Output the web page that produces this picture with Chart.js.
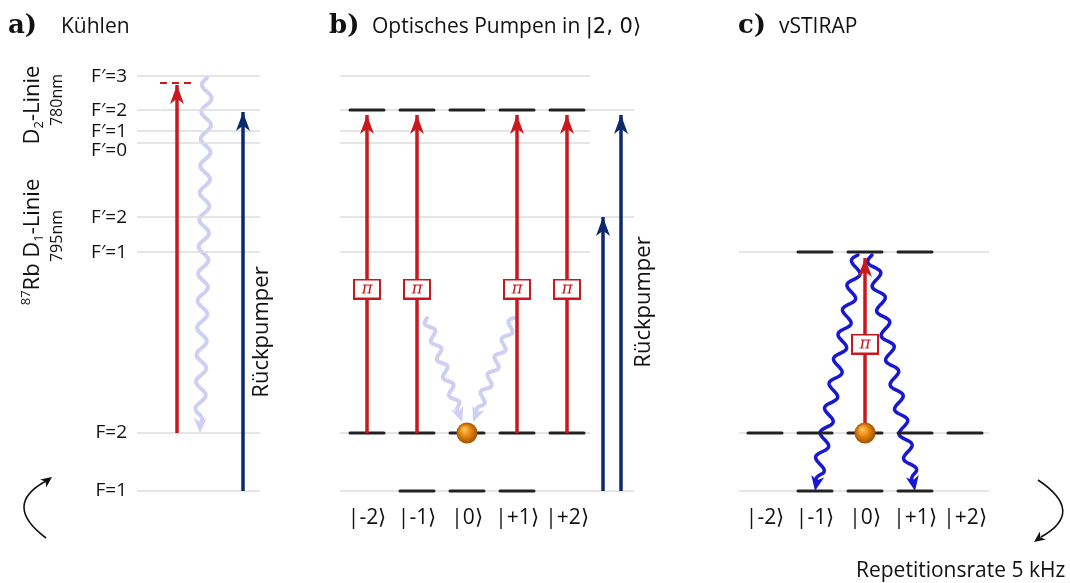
<!DOCTYPE html>
<html>
<head>
<meta charset="utf-8">
<script src="https://cdn.jsdelivr.net/npm/chart.js@4.4.1/dist/chart.umd.min.js"></script>
<style>
  html, body { margin: 0; padding: 0; background: #fff; }
  #wrap { width: 1070px; height: 583px; }
</style>
</head>
<body>
<div id="wrap"><canvas id="scheme"></canvas></div>
<script>
// 87Rb hyperfine levels (vertical diagram position, top = 0)
const levelLabels = ['F′=3', 'F′=2', 'F′=1', 'F′=0', 'F′=2', 'F′=1', 'F=2', 'F=1'];
const levelHeights = [76, 110, 131, 143, 217, 252, 433, 491];

// Zeeman sublevels and their kets
const mStates = [-2, -1, 0, 1, 2];
const ketLabels = ['|-2⟩', '|-1⟩', '|0⟩', '|+1⟩', '|+2⟩'];

// occupied sublevels per level index in panels b and c
const pumpSublevels = { 1: [-2, -1, 0, 1, 2], 6: [-2, -1, 0, 1, 2], 7: [-1, 0, 1] };
const stirapSublevels = { 5: [-1, 0, 1], 6: [-2, -1, 0, 1, 2], 7: [-1, 0, 1] };
const pumpPiStates = [-2, -1, 1, 2];
const stirapDecayStates = [-1, 1];

// cooling laser red-detuned below F'=3
const coolingDetuning = 7;

const C = {
  grey: '#dcdcdc', dash: '#222', red: '#c8191f', navy: '#0b2a6e',
  lilac: '#cfcff3', blue: '#1717d4', text: '#111'
};

const L = {
  aFrom: 137, aTo: 260, aLabel: 127, aCool: 177, aFluo: 206, aRepump: 243,
  bFrom: 340, bTo: 590, bLong: 634, bCenter: 467, bRep1: 603, bRep2: 621,
  cFrom: 739, cTo: 989, cCenter: 865, step: 50, half: 17
};
// F'=0 label sits a bit lower so it does not collide with F'=1
const labelNudge = [1, 1, 1, 8, 1, 1, 0, 0];

const datasets = [];
function seg(x0, y0, x1, y1, color, width, extra) {
  datasets.push(Object.assign({
    data: [{ x: x0, y: y0 }, { x: x1, y: y1 }],
    showLine: true, borderColor: color, borderWidth: width,
    pointRadius: 0, borderCapStyle: 'butt'
  }, extra || {}));
}

// grey level lines
levelHeights.forEach((h, i) => {
  seg(L.aFrom, h, L.aTo, h, C.grey, 1.5, { order: 9 });
  const longB = (i === 1 || i === 4 || i === 7);
  seg(L.bFrom, h, longB ? L.bLong : L.bTo, h, C.grey, 1.5, { order: 9 });
});
Object.keys(stirapSublevels).forEach(i => {
  seg(L.cFrom, levelHeights[i], L.cTo, levelHeights[i], C.grey, 1.5, { order: 9 });
});

// Zeeman sublevel dashes
function sublevelDashes(map, center) {
  Object.keys(map).forEach(i => {
    map[i].forEach(m => {
      const x = center + m * L.step;
      seg(x - L.half, levelHeights[i], x + L.half, levelHeights[i], C.dash, 3, { order: 8, borderCapStyle: 'round' });
    });
  });
}
sublevelDashes(pumpSublevels, L.bCenter);
sublevelDashes(stirapSublevels, L.cCenter);

// arrows: shaft dataset, head drawn by plugin
function arrow(x, from, to, color) {
  seg(x, from, x, to, color, 3.5, { order: 5, arrowHead: color });
}

// a) cooling
const coolTarget = levelHeights[0] + coolingDetuning;
seg(160, coolTarget, 194, coolTarget, C.red, 2, { order: 6, borderDash: [7, 5] });
arrow(L.aCool, levelHeights[6], coolTarget + 2, C.red);
arrow(L.aRepump, levelHeights[7], levelHeights[1] + 2, C.navy);
datasets.push({ data: [{ x: L.aFluo + 1, y: levelHeights[0] + 2 }, { x: L.aFluo - 6, y: levelHeights[6] }],
  showLine: false, pointRadius: 0, order: 7, wavy: { color: C.lilac, width: 4, amp: 5, wave: 27 } });

// b) optical pumping into |2,0>
pumpPiStates.forEach(m => {
  arrow(L.bCenter + m * L.step, levelHeights[6], levelHeights[1] + 5, C.red);
});
arrow(L.bRep1, levelHeights[7], levelHeights[4], C.navy);
arrow(L.bRep2, levelHeights[7], levelHeights[1] + 5, C.navy);
datasets.push({ data: [{ x: 427, y: 318 }, { x: L.bCenter - 5, y: 422 }],
  showLine: false, pointRadius: 0, order: 7, wavy: { color: C.lilac, width: 4, amp: 4, wave: 19 } });
datasets.push({ data: [{ x: 514, y: 318 }, { x: L.bCenter + 6, y: 422 }],
  showLine: false, pointRadius: 0, order: 7, wavy: { color: C.lilac, width: 4, amp: 4, wave: 19 } });

// c) vSTIRAP
arrow(L.cCenter, levelHeights[6], levelHeights[5] + 6, C.red);
stirapDecayStates.forEach(m => {
  datasets.push({ data: [{ x: L.cCenter + m * 7, y: levelHeights[5] + 3 }, { x: L.cCenter + m * L.step, y: levelHeights[7] }],
    showLine: false, pointRadius: 0, order: 4, wavy: { color: C.blue, width: 3.5, amp: 5.5, wave: 25 } });
});

// pi-polarisation tags
function piTag() {
  const cv = document.createElement('canvas');
  cv.width = 28; cv.height = 21;
  const g = cv.getContext('2d');
  g.fillStyle = '#fff'; g.fillRect(0, 0, 28, 21);
  g.strokeStyle = C.red; g.lineWidth = 2; g.strokeRect(1, 1, 26, 19);
  g.fillStyle = C.red; g.font = 'italic 17px "DejaVu Serif", serif';
  g.textAlign = 'center'; g.textBaseline = 'middle';
  g.fillText('π', 14, 11);
  return cv;
}
function atom() {
  const cv = document.createElement('canvas');
  cv.width = 22; cv.height = 22;
  const g = cv.getContext('2d');
  const gr = g.createRadialGradient(8, 7, 1, 11, 11, 11);
  gr.addColorStop(0, '#ffc15a'); gr.addColorStop(0.45, '#e8860f'); gr.addColorStop(1, '#9a4e02');
  g.fillStyle = gr; g.beginPath(); g.arc(11, 11, 10.5, 0, Math.PI * 2); g.fill();
  return cv;
}
const tag = piTag();
const ball = atom();
const tagPoints = pumpPiStates.map(m => ({ x: L.bCenter + m * L.step, y: 289 }));
tagPoints.push({ x: L.cCenter, y: 344 });
datasets.push({ data: tagPoints, showLine: false, pointStyle: tag, pointRadius: 10, order: 2 });
datasets.push({ data: [{ x: L.bCenter, y: levelHeights[6] }, { x: L.cCenter, y: levelHeights[6] }],
  showLine: false, pointStyle: ball, pointRadius: 11, order: 1 });

function head(ctx, tx, ty, dx, dy, len, hw, color) {
  const px = -dy, py = dx;
  ctx.fillStyle = color;
  ctx.beginPath();
  ctx.moveTo(tx, ty);
  ctx.lineTo(tx - dx * len + px * hw, ty - dy * len + py * hw);
  ctx.lineTo(tx - dx * len * 0.72, ty - dy * len * 0.72);
  ctx.lineTo(tx - dx * len - px * hw, ty - dy * len - py * hw);
  ctx.closePath();
  ctx.fill();
}

const marksPlugin = {
  id: 'marks',
  beforeDatasetsDraw(chart) {
    const ctx = chart.ctx;
    chart.data.datasets.forEach((ds, i) => {
      if (!ds.wavy) return;
      const pts = chart.getDatasetMeta(i).data;
      const x0 = pts[0].x, y0 = pts[0].y, x1 = pts[1].x, y1 = pts[1].y;
      const len = Math.hypot(x1 - x0, y1 - y0);
      const dx = (x1 - x0) / len, dy = (y1 - y0) / len;
      const w = ds.wavy, hl = 15, run = len - hl * 0.6;
      ctx.save();
      ctx.strokeStyle = w.color; ctx.lineWidth = w.width; ctx.lineCap = 'round'; ctx.lineJoin = 'round';
      ctx.beginPath();
      for (let s = 0; s <= run; s += 1) {
        const fade = Math.min(1, (run - s) / 10);
        const o = w.amp * Math.sin(2 * Math.PI * s / w.wave) * fade;
        const x = x0 + dx * s - dy * o, y = y0 + dy * s + dx * o;
        if (s === 0) ctx.moveTo(x, y); else ctx.lineTo(x, y);
      }
      ctx.stroke();
      head(ctx, x1, y1, dx, dy, hl, 6.5, w.color);
      ctx.restore();
    });
  },
  afterDatasetsDraw(chart) {
    const ctx = chart.ctx;
    chart.data.datasets.forEach((ds, i) => {
      if (!ds.arrowHead) return;
      const pts = chart.getDatasetMeta(i).data;
      const a = pts[0], b = pts[1];
      const len = Math.hypot(b.x - a.x, b.y - a.y);
      head(ctx, b.x, b.y, (b.x - a.x) / len, (b.y - a.y) / len, 19, 7, ds.arrowHead);
    });
  }
};

const textPlugin = {
  id: 'texts',
  afterDraw(chart) {
    const ctx = chart.ctx, xs = chart.scales.x, ys = chart.scales.y;
    const X = v => xs.getPixelForValue(v), Y = v => ys.getPixelForValue(v);
    const sans = '"Open Sans", "Noto Sans", sans-serif';
    ctx.save();
    ctx.fillStyle = C.text;

    // panel headings
    ctx.textBaseline = 'alphabetic'; ctx.textAlign = 'left';
    ctx.font = 'bold 26px "DejaVu Serif", serif';
    ctx.fillText('a)', X(8), Y(33));
    ctx.fillText('b)', X(329), Y(33));
    ctx.fillText('c)', X(738), Y(33));
    ctx.font = '21px ' + sans;
    ctx.fillText('Kühlen', X(61), Y(33));
    ctx.fillText('Optisches Pumpen in ', X(372), Y(33));
    const wOpt = ctx.measureText('Optisches Pumpen in ').width;
    ctx.font = '21px "DejaVu Sans", sans-serif';
    ctx.fillText('|2, 0⟩', X(372) + wOpt, Y(33));
    ctx.font = '21px ' + sans;
    ctx.fillText('vSTIRAP', X(779), Y(33));
    ctx.fillText('Repetitionsrate 5 kHz', X(856), Y(577));

    // level labels
    ctx.font = '19px ' + sans; ctx.textAlign = 'right'; ctx.textBaseline = 'middle';
    levelLabels.forEach((t, i) => ctx.fillText(t, X(L.aLabel), Y(levelHeights[i] + labelNudge[i])));

    // kets
    ctx.font = '21px ' + sans; ctx.textAlign = 'center';
    mStates.forEach((m, k) => {
      ctx.fillText(ketLabels[k], X(L.bCenter + m * L.step), Y(518));
      ctx.fillText(ketLabels[k], X(L.cCenter + m * L.step), Y(518));
    });

    // vertical labels
    function vtext(parts, bx, cy) {
      let total = 0;
      parts.forEach(p => { ctx.font = p.font; total += ctx.measureText(p.t).width; });
      ctx.save();
      ctx.translate(X(bx), Y(cy));
      ctx.rotate(-Math.PI / 2);
      ctx.textAlign = 'left'; ctx.textBaseline = 'alphabetic';
      let x = -total / 2;
      parts.forEach(p => {
        ctx.font = p.font; ctx.fillText(p.t, x, p.dy || 0);
        x += ctx.measureText(p.t).width;
      });
      ctx.restore();
    }
    const big = '22px ' + sans, small = '13px ' + sans, mid = '16px ' + sans;
    vtext([{ t: 'D', font: big }, { t: '2', font: small, dy: 4 }, { t: '-Linie', font: big }], 39, 105);
    vtext([{ t: '780nm', font: mid }], 62, 100);
    vtext([{ t: '87', font: small, dy: -9 }, { t: 'Rb D', font: big }, { t: '1', font: small, dy: 4 }, { t: '-Linie', font: big }], 39, 242);
    vtext([{ t: '795nm', font: mid }], 62, 236);
    vtext([{ t: 'Rückpumper', font: big }], 268, 332);
    vtext([{ t: 'Rückpumper', font: big }], 650, 302);

    // repetition arrows
    ctx.strokeStyle = '#111'; ctx.lineWidth = 1.6;
    ctx.beginPath();
    ctx.moveTo(X(46), Y(538));
    ctx.quadraticCurveTo(X(2), Y(505), X(46), Y(481));
    ctx.stroke();
    head(ctx, X(52), Y(477), 0.8, -0.6, 11, 5, '#111');
    ctx.beginPath();
    ctx.moveTo(X(1038), Y(480));
    ctx.quadraticCurveTo(X(1086), Y(512), X(1041), Y(537));
    ctx.stroke();
    head(ctx, X(1034), Y(542), -0.8, 0.6, 11, 5, '#111');
    ctx.restore();
  }
};

new Chart(document.getElementById('scheme'), {
  type: 'scatter',
  data: { datasets },
  options: {
    responsive: true, maintainAspectRatio: false, animation: false,
    layout: { padding: 0, autoPadding: false },
    plugins: { legend: { display: false }, tooltip: { enabled: false } },
    scales: {
      x: { type: 'linear', min: 0, max: 1070, display: false },
      y: { type: 'linear', min: 0, max: 583, reverse: true, display: false }
    }
  },
  plugins: [marksPlugin, textPlugin]
});
</script>
</body>
</html>
